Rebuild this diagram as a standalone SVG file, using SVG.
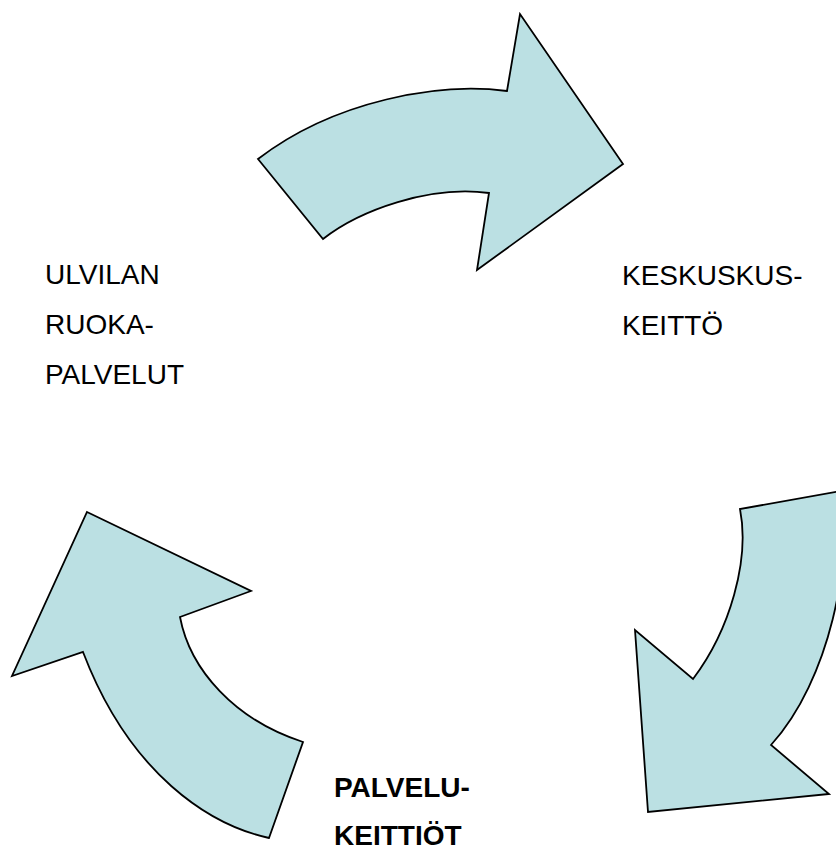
<svg xmlns="http://www.w3.org/2000/svg" width="836" height="852" viewBox="0 0 836 852">
<style>
.arrow{fill:#BBE0E3;stroke:#000;stroke-width:1.8;stroke-linejoin:miter}
.lbl{font-family:"Liberation Sans",Arial,sans-serif;font-size:28px;fill:#000}
.b{font-weight:bold}
</style>
<rect width="836" height="852" fill="#fff"/>
<g id="connectors">
<path id="arrow-top" class="arrow" d="M258,159 L323,239 C360,210 430,185 489,193 L477,270 L623,164 L520,14 L507,91 C440,82 335,100 258,159 Z"/>
<path id="arrow-right" class="arrow" d="M740,509 C750,560 730,630 693,679 L635,630 L648,812 L829,794 L771,745 C830,680 853,560 841,491 Z"/>
<path id="arrow-left" class="arrow" d="M87,512 L251,591 L180,617 C190,670 235,720 303,742 L269,838 C210,825 130,775 83,652 L12,676 Z"/>
</g>
<g id="node-ulvila">
<text class="lbl" x="45" y="284">ULVILAN</text>
<text class="lbl" x="45" y="334">RUOKA-</text>
<text class="lbl" x="45" y="384">PALVELUT</text>
</g>
<g id="node-keskus">
<text class="lbl" x="622" y="285">KESKUSKUS-</text>
<text class="lbl" x="622" y="335">KEITTÖ</text>
</g>
<g id="node-palvelu">
<text class="lbl b" x="334" y="797">PALVELU-</text>
<text class="lbl b" x="334" y="845">KEITTIÖT</text>
</g>
</svg>
